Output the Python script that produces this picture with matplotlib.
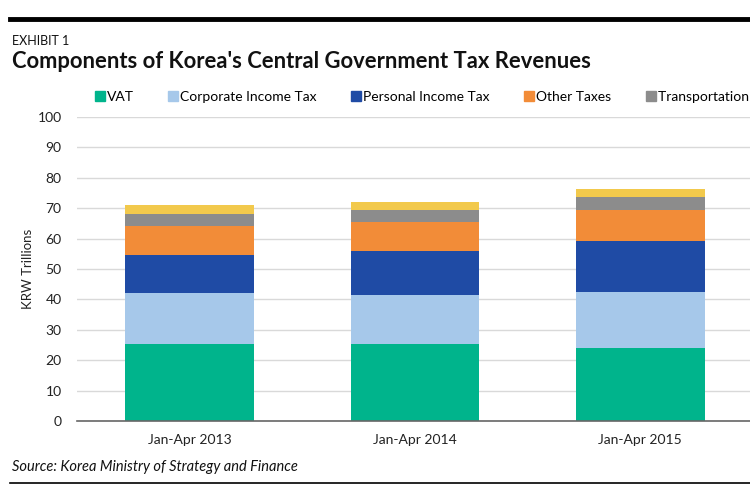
import matplotlib.pyplot as plt
from matplotlib.lines import Line2D
import numpy as np

periods = ["Jan-Apr 2013", "Jan-Apr 2014", "Jan-Apr 2015"]
vat = [25.3, 25.3, 24.1]
corporate = [16.7, 16.0, 18.2]
personal = [12.6, 14.7, 17.0]
other = [9.7, 9.6, 10.1]
transport = [3.7, 3.8, 4.4]
customs = [3.1, 2.7, 2.4]

names = ["VAT", "Corporate Income Tax", "Personal Income Tax", "Other Taxes",
         "Transportation Tax", "Customs Duties"]
colors = ["#00b48c", "#a6c8ea", "#1f4ba5", "#f28c38", "#8c8c8c", "#f2c94c"]

plt.rcParams['font.family'] = ['Lato', 'DejaVu Sans']

fig = plt.figure(figsize=(7.5, 4.95), dpi=100)
ax = fig.add_axes([77 / 750, 1 - 421 / 495, 676 / 750, 304 / 495])

x = np.arange(len(periods))
bottom = np.zeros(len(periods))
for vals, name, c in zip([vat, corporate, personal, other, transport, customs], names, colors):
    ax.bar(x, vals, width=0.57, bottom=bottom, color=c, label=name, zorder=3)
    bottom += np.array(vals)

ax.set_xlim(-0.5, 2.5)
ax.set_ylim(0, 100)
ax.set_yticks(range(0, 101, 10))
ax.set_xticks(x)
ax.set_xticklabels(periods, fontsize=10, color="#222222")
ax.tick_params(axis="y", labelsize=10, colors="#222222", length=0, pad=11)
ax.tick_params(axis="x", length=0, pad=9)
ax.grid(axis="y", color="#d9d9d9", linewidth=1, zorder=0)
for s in ["top", "right", "left"]:
    ax.spines[s].set_visible(False)
ax.spines["bottom"].set_color("#666666")
ax.spines["bottom"].set_linewidth(1.2)
ax.spines["bottom"].set_zorder(4)
ax.set_ylabel("KRW Trillions", fontsize=9.5, color="#222222", labelpad=2)
ax.yaxis.set_label_coords(-0.064, 0.5)

# legend runs off the right edge, as in the original exhibit
handles = [Line2D([], [], marker="s", linestyle="none", markersize=6.5, color=c) for c in colors]
fig.legend(handles, names, loc="center left", bbox_to_anchor=(95 / 750, 1 - 97 / 495),
           ncol=6, frameon=False, fontsize=10, handlelength=0.7, handletextpad=0.15,
           columnspacing=2.5, borderaxespad=0, borderpad=0)

fig.text(12 / 750, 1 - 41 / 495, "EXHIBIT 1", fontsize=9, color="#111111", va="center")
fig.text(12 / 750, 1 - 62 / 495, "Components of Korea's Central Government Tax Revenues",
         fontsize=15.8, fontweight="bold", color="#111111", va="center")
fig.text(12 / 750, 1 - 467 / 495, "Source: Korea Ministry of Strategy and Finance",
         fontsize=10.5, style="italic", color="#111111", va="center")

fig.add_artist(Line2D([10 / 750, 1], [1 - 19 / 495] * 2, color="black", linewidth=3.5))
fig.add_artist(Line2D([10 / 750, 1], [1 - 483 / 495] * 2, color="black", linewidth=1.2))

fig.savefig("out.png", dpi=100)
